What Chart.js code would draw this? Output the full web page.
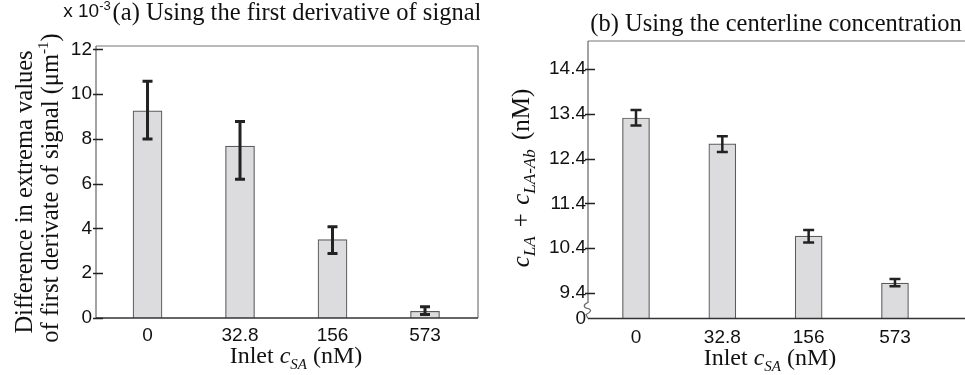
<!DOCTYPE html>
<html>
<head>
<meta charset="utf-8">
<script src="https://cdn.jsdelivr.net/npm/chart.js@4.4.1/dist/chart.umd.min.js"></script>
<style>
  html, body { margin: 0; padding: 0; background: #fff; overflow: hidden; width: 965px; height: 375px; }
  #left { position: absolute; left: 0; top: 0; }
  #right { position: absolute; left: 470px; top: 0; }
</style>
</head>
<body>
<canvas id="left" width="480" height="375" style="width:480px;height:375px"></canvas>
<canvas id="right" width="510" height="375" style="width:510px;height:375px"></canvas>
<script>
// categories (inlet c_SA, nM) and their slot on the x axis
const categories = ['0', '32.8', '156', '573'];
const positions = [1, 2, 3, 4];

// (a) difference in extrema values, x 10^-3 um^-1
const derivMeans = [9.25, 7.68, 3.5, 0.3];
const derivLow = [8.0, 6.2, 2.88, 0.16];
const derivHigh = [10.58, 8.78, 4.08, 0.5];
const derivTicks = [0, 2, 4, 6, 8, 10, 12];

// (b) centerline concentration c_LA + c_LA-Ab, nM (broken axis)
const concMeans = [13.31, 12.73, 10.67, 9.62];
const concLow = [13.14, 12.55, 10.53, 9.55];
const concHigh = [13.49, 12.9, 10.81, 9.71];
const concTicks = [9.4, 10.4, 11.4, 12.4, 13.4, 14.4];
const concBreak = 8.83;   // bottom of the broken axis, labelled "0"

const SANS = '"Liberation Sans", Arial, sans-serif';
const SERIF = '"Liberation Serif", "Times New Roman", serif';

function drawRich(ctx, segs, x, y, rotate) {
  ctx.save();
  ctx.translate(x, y);
  if (rotate) ctx.rotate(-Math.PI / 2);
  let w = 0;
  segs.forEach(s => { ctx.font = s.font; w += ctx.measureText(s.t).width + (s.gap || 0); });
  let cx = -w / 2;
  ctx.fillStyle = '#111';
  ctx.textBaseline = 'alphabetic';
  ctx.textAlign = 'left';
  segs.forEach(s => {
    ctx.font = s.font;
    ctx.fillText(s.t, cx, s.dy || 0);
    cx += ctx.measureText(s.t).width + (s.gap || 0);
  });
  ctx.restore();
}

const frame = {
  id: 'frame',
  afterDatasetsDraw(chart, args, o) {
    const { ctx, chartArea: a, scales } = chart;
    const ys = scales.y, xs = scales.x;
    ctx.save();
    ctx.lineCap = 'butt';
    // box
    ctx.strokeStyle = '#777';
    ctx.lineWidth = 1.2;
    ctx.beginPath();
    ctx.moveTo(a.left, a.top); ctx.lineTo(o.right ? a.right : chart.width, a.top);
    if (o.right) { ctx.moveTo(a.right, a.top); ctx.lineTo(a.right, a.bottom); }
    ctx.stroke();
    // left axis (optionally broken)
    ctx.strokeStyle = '#666';
    ctx.beginPath();
    if (o.brk) {
      const b = a.bottom - 16;
      ctx.moveTo(a.left, a.top); ctx.lineTo(a.left, b);
      ctx.bezierCurveTo(a.left - 5, b + 2, a.left - 5, b + 5, a.left, b + 6);
      ctx.bezierCurveTo(a.left + 4, b + 7, a.left + 3, b + 10, a.left - 2, b + 12);
      ctx.lineTo(a.left, a.bottom);
    } else {
      ctx.moveTo(a.left, a.top); ctx.lineTo(a.left, a.bottom);
    }
    ctx.stroke();
    // bottom axis
    ctx.strokeStyle = '#333';
    ctx.lineWidth = 1.6;
    ctx.beginPath();
    ctx.moveTo(a.left, a.bottom); ctx.lineTo(o.right ? a.right : chart.width, a.bottom);
    ctx.stroke();
    // y ticks, crossing the axis
    ctx.strokeStyle = '#222';
    ctx.lineWidth = 1.6;
    ctx.beginPath();
    o.ticks.forEach(v => {
      const py = Math.round(ys.getPixelForValue(v)) + 0.5;
      ctx.moveTo(a.left - 3, py); ctx.lineTo(a.left + 7, py);
    });
    ctx.stroke();
    // error bars
    ctx.strokeStyle = '#222';
    ctx.lineWidth = o.errWidth;
    ctx.beginPath();
    positions.forEach((p, i) => {
      const px = xs.getPixelForValue(p);
      const hi = ys.getPixelForValue(o.high[i]);
      const lo = ys.getPixelForValue(o.low[i]);
      ctx.moveTo(px, hi); ctx.lineTo(px, lo);
      ctx.moveTo(px - o.cap, hi); ctx.lineTo(px + o.cap, hi);
      ctx.moveTo(px - o.cap, lo); ctx.lineTo(px + o.cap, lo);
    });
    ctx.stroke();
    ctx.restore();
  }
};

const labels = {
  id: 'labels',
  afterDraw(chart, args, o) {
    o.items.forEach(it => drawRich(chart.ctx, it.segs, it.x, it.y, it.rotate));
  }
};

function makeChart(id, cfg) {
  return new Chart(document.getElementById(id), {
    type: 'bar',
    data: {
      datasets: [{
        data: positions.map((x, i) => ({ x: x, y: cfg.means[i] })),
        backgroundColor: '#dcdcdf',
        borderColor: '#5c5c5c',
        borderWidth: 1.2,
        barThickness: cfg.barW
      }]
    },
    options: {
      responsive: false,
      animation: false,
      layout: { padding: cfg.pad },
      plugins: {
        legend: { display: false },
        tooltip: { enabled: false },
        frame: cfg.frame,
        labels: { items: cfg.texts }
      },
      scales: {
        x: {
          type: 'linear',
          offset: false,
          bounds: 'data',
          min: cfg.xMin, max: cfg.xMax,
          grid: { display: false, drawTicks: false, offset: false },
          border: { display: false },
          afterBuildTicks: s => { s.ticks = positions.map(v => ({ value: v })); },
          afterFit: s => { s.height = cfg.xH; },
          ticks: {
            autoSkip: false, maxRotation: 0,
            padding: cfg.xPad,
            color: '#111',
            font: { family: SANS, size: 19 },
            callback: (v, i) => categories[i]
          }
        },
        y: {
          min: cfg.yMin, max: cfg.yMax,
          bounds: 'data',
          grid: { display: false, drawTicks: false },
          border: { display: false },
          afterBuildTicks: s => { s.ticks = cfg.yTicks.map(v => ({ value: v })); },
          afterFit: s => { s.width = cfg.yW; },
          ticks: {
            padding: cfg.yPad,
            color: '#111',
            font: { family: SANS, size: 19 },
            callback: v => cfg.yLabel(v)
          }
        }
      }
    },
    plugins: [frame, labels]
  });
}

const serifT = '24.5px ' + SERIF;
const serif24 = '24px ' + SERIF;
const ital24 = 'italic 24px ' + SERIF;
const ital25 = 'italic 25px ' + SERIF;
const ital15 = 'italic 15px ' + SERIF;
const ital17 = 'italic 17px ' + SERIF;

makeChart('left', {
  means: derivMeans, barW: 29,
  pad: { top: 46, right: 2, left: 0, bottom: 0 },
  xMin: 0.443, xMax: 4.573, xH: 57, xPad: 6,
  yMin: 0, yMax: 12.15, yW: 96, yPad: 4, yTicks: derivTicks,
  yLabel: v => String(v),
  frame: { right: true, brk: false, ticks: derivTicks, low: derivLow, high: derivHigh, errWidth: 3, cap: 5 },
  texts: [
    { x: 87, y: 17, segs: [
      { t: 'x 10', font: '19px ' + SANS },
      { t: '-3', font: '13px ' + SANS, dy: -7 }
    ] },
    { x: 297, y: 19.5, segs: [{ t: '(a) Using the first derivative of signal', font: serifT }] },
    { x: 32, y: 192, rotate: true, segs: [{ t: 'Difference in extrema values', font: serifT }] },
    { x: 58, y: 188, rotate: true, segs: [
      { t: 'of first derivate of signal (\u03bcm', font: serifT },
      { t: '-1', font: '15px ' + SERIF, dy: -10 },
      { t: ')', font: serifT }
    ] },
    { x: 296, y: 363, segs: [
      { t: 'Inlet ', font: serif24 },
      { t: 'c', font: ital24 },
      { t: 'SA', font: ital15, dy: 6 },
      { t: ' (nM)', font: serif24 }
    ] }
  ]
});

makeChart('right', {
  means: concMeans, barW: 27,
  pad: { top: 41, right: 5, left: 0, bottom: 0 },
  xMin: 0.444, xMax: 4.927, xH: 56.5, xPad: 8,
  yMin: concBreak, yMax: 15.03, yW: 118, yPad: 2, yTicks: [concBreak].concat(concTicks),
  yLabel: v => (v === concBreak ? '0' : v.toFixed(1)),
  frame: { right: false, brk: true, ticks: concTicks, low: concLow, high: concHigh, errWidth: 2.5, cap: 5.5 },
  texts: [
    { x: 306, y: 31, segs: [{ t: '(b) Using the centerline concentration', font: serifT }] },
    { x: 59, y: 178, rotate: true, segs: [
      { t: 'c', font: ital25 },
      { t: 'LA', font: ital17, dy: 6, gap: 3 },
      { t: ' + ', font: '25px ' + SERIF, gap: 2 },
      { t: 'c', font: ital25 },
      { t: 'LA-Ab', font: ital17, dy: 6, gap: 3 },
      { t: ' (nM)', font: '25px ' + SERIF }
    ] },
    { x: 300, y: 365, segs: [
      { t: 'Inlet ', font: serif24 },
      { t: 'c', font: ital24 },
      { t: 'SA', font: ital15, dy: 6 },
      { t: ' (nM)', font: serif24 }
    ] }
  ]
});
</script>
</body>
</html>
